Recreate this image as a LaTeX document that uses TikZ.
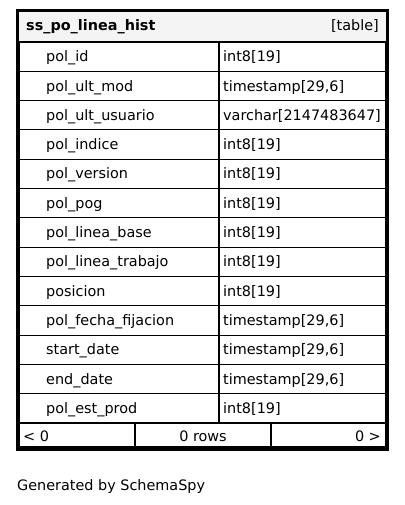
\documentclass[tikz,border=0pt]{standalone}
\usepackage{fontspec}
\setmainfont{DejaVu Sans}
\definecolor{hdr}{HTML}{F4F4F4}
\def\tsz{timestamp[29,6]}
\begin{document}
\begin{tikzpicture}[x=1pt,y=-1pt,
  cell/.style={draw=black,line width=1.1pt},
  txt/.style={inner sep=0pt,font=\fontsize{14.4}{16}\selectfont,anchor=base west},
  txtr/.style={inner sep=0pt,font=\fontsize{14.4}{16}\selectfont,anchor=base east},
  txtc/.style={inner sep=0pt,font=\fontsize{14.4}{16}\selectfont,anchor=base}]
\useasboundingbox (0,0) rectangle (404,505);
\fill[white] (0,0) rectangle (404,505);
% header
\fill[hdr] (19,12) rectangle (386,42);
\node[txt,font=\bfseries\fontsize{14.4}{16}\selectfont] (title) at (26,31) {ss\_po\_linea\_hist};
\node[txtr] (kind) at (379,31) {[table]};
% rows
\def\rh{29.31}
\foreach \n/\t [count=\i from 0] in {pol\_id/int8[19],pol\_ult\_mod/\tsz,pol\_ult\_usuario/varchar[2147483647],pol\_indice/int8[19],pol\_version/int8[19],pol\_pog/int8[19],pol\_linea\_base/int8[19],pol\_linea\_trabajo/int8[19],posicion/int8[19],pol\_fecha\_fijacion/\tsz,start\_date/\tsz,end\_date/\tsz,pol\_est\_prod/int8[19]}{
  \pgfmathsetmacro{\ya}{42+\i*\rh}
  \pgfmathsetmacro{\yb}{42+(\i+1)*\rh}
  \pgfmathsetmacro{\yt}{\ya+\rh/2+5.1}
  \draw[cell] (19,\ya) rectangle (219,\yb);
  \draw[cell] (219,\ya) rectangle (386,\yb);
  \node[txt] (n\i) at (46,\yt) {\n};
  \node[txt] (t\i) at (223,\yt) {\t};
}
% footer
\draw[cell] (19,423) rectangle (135,447);
\draw[cell] (135,423) rectangle (271,447);
\draw[cell] (271,423) rectangle (386,447);
\node[txt] (prev) at (23,441) {< 0};
\node[txtc] (rows) at (203,441) {0 rows};
\node[txtr] (next) at (381,441) {0 >};
% outer border
\draw[line width=3pt] (17,11) rectangle (387.5,449);
\node[txt] (gen) at (17,490.5) {Generated by SchemaSpy};
\end{tikzpicture}
\end{document}
